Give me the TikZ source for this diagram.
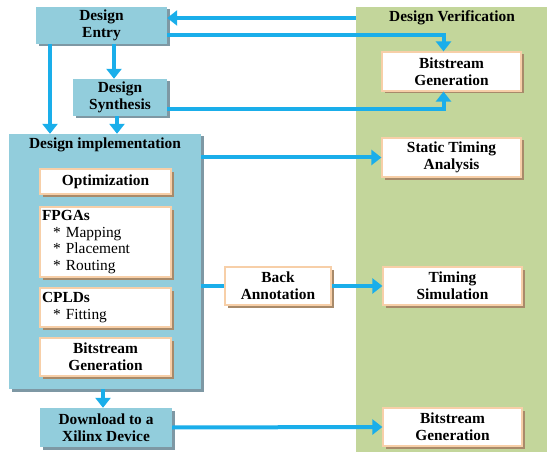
\documentclass[tikz,border=0pt]{standalone}
\usepackage{fontspec}
\setmainfont{Liberation Serif}
\usetikzlibrary{arrows.meta,shadows}
\definecolor{boxblue}{HTML}{92CDDC}
\definecolor{shblue}{HTML}{7E98A4}
\definecolor{panelgreen}{HTML}{C3D69B}
\definecolor{peach}{HTML}{F7CFA8}
\definecolor{shbrown}{HTML}{A88A6A}
\definecolor{arrowblue}{HTML}{1AAEEA}
\begin{document}
\begin{tikzpicture}[x=1pt,y=-1pt,
  txt/.style={font=\fontsize{15.4}{16.8}\selectfont\bfseries},
  bluebox/.style={txt,rectangle,fill=boxblue,inner sep=0pt,align=center,
    drop shadow={shadow xshift=2.5pt,shadow yshift=-2.5pt,fill=shblue,opacity=1}},
  whitebox/.style={txt,rectangle,fill=white,draw=peach,line width=1.2pt,inner sep=0pt,align=center,
    drop shadow={shadow xshift=2.5pt,shadow yshift=-2.5pt,fill=shbrown,opacity=1}},
  arr/.style={draw=arrowblue,line width=4pt,-{Triangle[length=10pt,width=15pt]}},
  ln/.style={draw=arrowblue,line width=4pt}]
\useasboundingbox (0,0) rectangle (547,452);
% verification panel
\node[fill=panelgreen,minimum width=191,minimum height=445,inner sep=0pt] (verif) at (451.5,229.5) {};
\node[txt] (vtitle) at (452,18) {Design Verification};
% left side
\node[bluebox,minimum width=131,minimum height=37] (entry) at (101.5,25.5) {Design\\Entry};
\node[bluebox,minimum width=94,minimum height=37] (synth) at (120,97.5) {Design\\Synthesis};
\node[bluebox,minimum width=192,minimum height=255] (impl) at (105,261.5) {};
\node[txt] (impltitle) at (105,145) {Design implementation};
\node[whitebox,minimum width=131,minimum height=25] (opt) at (105.5,181.5) {Optimization};
\node[whitebox,text width=127pt,inner xsep=2pt,minimum height=70,align=left] (fpga) at (105.5,242)
  {FPGAs\\\mdseries\hspace*{11pt}* Mapping\\\hspace*{11pt}* Placement\\\hspace*{11pt}* Routing};
\node[whitebox,text width=127pt,inner xsep=2pt,minimum height=39,align=left] (cpld) at (105.5,307.5)
  {CPLDs\\\mdseries\hspace*{11pt}* Fitting};
\node[whitebox,minimum width=131,minimum height=38] (bsin) at (105.5,357) {Bitstream\\Generation};
\node[bluebox,minimum width=132,minimum height=39] (dl) at (106,427.5) {Download to a\\Xilinx Device};
\node[whitebox,minimum width=106,minimum height=38] (back) at (278,286) {Back\\Annotation};
% right side
\node[whitebox,minimum width=139,minimum height=39] (bs1) at (451.5,71.5) {Bitstream\\Generation};
\node[whitebox,minimum width=139,minimum height=39] (sta) at (451.5,157.5) {Static Timing\\Analysis};
\node[whitebox,minimum width=139,minimum height=38] (tsim) at (452.5,286) {Timing\\Simulation};
\node[whitebox,minimum width=139,minimum height=38] (bs3) at (452.5,427) {Bitstream\\Generation};
% connectors
\draw[arr] (verif.west |- vtitle) -- (entry.east |- vtitle);
\draw[arr] ([yshift=-10pt]entry.east) -| ([xshift=-8pt]bs1.north);
\draw[arr] ([yshift=-12pt]synth.east) -| ([xshift=-8pt]bs1.south);
\draw[arr] ([xshift=-51.5pt]entry.south) -- ([xshift=-51.5pt]entry.south |- impl.north);
\draw[arr] ([xshift=12.5pt]entry.south) -- ([xshift=12.5pt]entry.south |- synth.north);
\draw[arr] ([xshift=-3pt]synth.south) -- ([xshift=-3pt]synth.south |- impl.north);
\draw[arr] (impl.east |- sta) -- (sta.west);
\draw[ln] (impl.east |- back) -- (back.west);
\draw[arr] (back.east) -- (tsim.west);
\draw[arr] (impl.south -| dl.north) ++(-3,0) coordinate (dlin) -- (dlin |- dl.north);
\draw[arr] (dl.east) -- (bs3.west);
\end{tikzpicture}
\end{document}
